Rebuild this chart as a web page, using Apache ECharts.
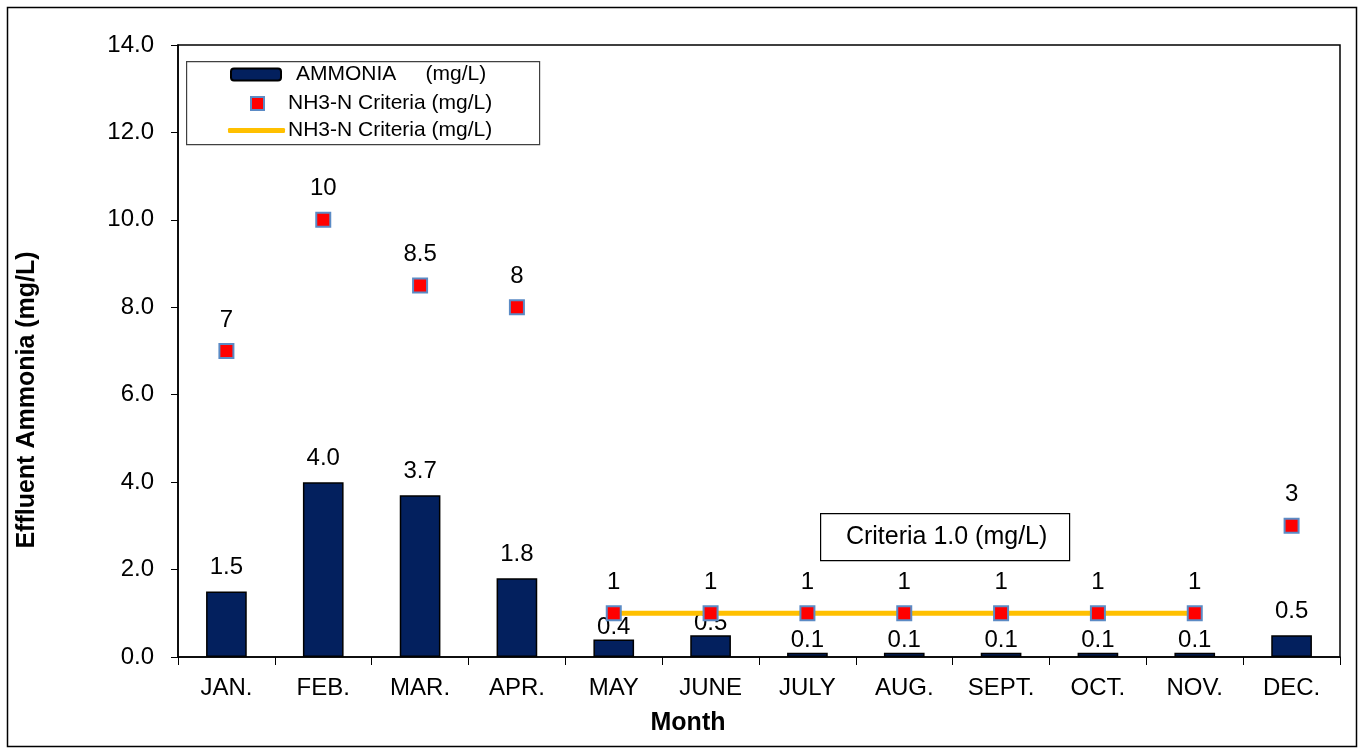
<!DOCTYPE html>
<html>
<head>
<meta charset="utf-8">
<title>Effluent Ammonia by Month</title>
<script src="https://cdn.jsdelivr.net/npm/echarts@6/dist/echarts.min.js"></script>
<style>
  html, body { margin: 0; padding: 0; background: #ffffff; }
  #chart { width: 1360px; height: 749px; }
</style>
</head>
<body>
<div id="chart"></div>
<script>
// Monthly effluent ammonia results and the NH3-N criteria (mg/L)
const months = ['JAN.', 'FEB.', 'MAR.', 'APR.', 'MAY', 'JUNE', 'JULY', 'AUG.', 'SEPT.', 'OCT.', 'NOV.', 'DEC.'];
const ammonia = [1.5, 4.0, 3.7, 1.8, 0.4, 0.5, 0.1, 0.1, 0.1, 0.1, 0.1, 0.5];
const criteria = [7, 10, 8.5, 8, 1, 1, 1, 1, 1, 1, 1, 3];
const criteriaLine = [null, null, null, null, 1, 1, 1, 1, 1, 1, 1, null];
const yTicks = { min: 0, max: 14, interval: 2 };

const FONT = 'Arial, "Liberation Sans", sans-serif';
const chart = echarts.init(document.getElementById('chart'), null, { renderer: 'canvas' });

// Bar labels sit closer to the bar where the criteria line runs just above it
const ammoniaData = ammonia.map((v, i) => ({
  value: v,
  label: { distance: criteriaLine[i] === null ? 12 : 0 }
}));

const option = {
  backgroundColor: '#ffffff',
  animation: false,
  grid: {
    left: 178, right: 20, top: 45, bottom: 92,
    show: true, borderColor: '#000000', borderWidth: 1.5, backgroundColor: 'transparent'
  },
  xAxis: {
    type: 'category',
    data: months,
    boundaryGap: true,
    axisLine: { lineStyle: { color: '#000', width: 1.5 } },
    axisTick: { show: true, length: 8, inside: false, lineStyle: { color: '#000', width: 1 } },
    axisLabel: { fontFamily: FONT, fontSize: 24, color: '#000', margin: 19 },
    splitLine: { show: false }
  },
  yAxis: {
    type: 'value',
    min: yTicks.min, max: yTicks.max, interval: yTicks.interval,
    axisLine: { show: true, lineStyle: { color: '#000', width: 1.5 } },
    axisTick: { show: true, length: 7, lineStyle: { color: '#000', width: 1 } },
    axisLabel: {
      fontFamily: FONT, fontSize: 24, color: '#000', margin: 24,
      formatter: v => v.toFixed(1)
    },
    splitLine: { show: false }
  },
  legend: [
    {
      data: ['AMMONIA'],
      formatter: () => 'AMMONIA     (mg/L)',
      left: 230, top: 64, padding: 0,
      itemWidth: 50, itemHeight: 12,
      textStyle: { fontFamily: FONT, fontSize: 21, color: '#000', padding: [0, 0, 0, 10] },
      selectedMode: false, z: 10
    },
    {
      data: ['NH3-N Criteria (mg/L)'],
      left: 250, top: 93, padding: 0,
      itemWidth: 13, itemHeight: 13,
      textStyle: { fontFamily: FONT, fontSize: 21, color: '#000', padding: [0, 0, 0, 19] },
      selectedMode: false, z: 10
    },
    {
      data: [{ name: 'criteria-line', icon: 'roundRect' }],
      formatter: () => 'NH3-N Criteria (mg/L)',
      left: 228, top: 120, padding: 0,
      itemWidth: 57, itemHeight: 5,
      textStyle: { fontFamily: FONT, fontSize: 21, color: '#000', padding: [0, 0, 0, -2] },
      selectedMode: false, z: 10
    }
  ],
  graphic: [
    // outer frame
    {
      type: 'rect', left: 5, top: 5, z: -10, silent: true,
      shape: { width: 1349, height: 739 },
      style: { fill: 'none', stroke: '#000', lineWidth: 1.5 }
    },
    // legend frame
    {
      type: 'rect', left: 186, top: 61, z: 5, silent: true,
      shape: { width: 353, height: 83 },
      style: { fill: '#fff', stroke: '#404040', lineWidth: 1.2 }
    },
    // criteria note
    {
      type: 'group', left: 820, top: 513, z: 5, silent: true,
      children: [
        {
          type: 'rect',
          shape: { x: 0, y: 0, width: 249, height: 47 },
          style: { fill: '#fff', stroke: '#000', lineWidth: 1.2 }
        },
        {
          type: 'text',
          style: {
            x: 126, y: 24, text: 'Criteria 1.0 (mg/L)',
            font: '25px ' + FONT, fill: '#000', align: 'center', verticalAlign: 'middle'
          }
        }
      ]
    },
    // axis titles
    {
      type: 'text', x: 27, y: 400, rotation: Math.PI / 2, silent: true,
      style: {
        text: 'Effluent Ammonia (mg/L)', font: 'bold 25px ' + FONT, fill: '#000',
        align: 'center', verticalAlign: 'middle'
      }
    },
    {
      type: 'text', x: 688, y: 723, silent: true,
      style: {
        text: 'Month', font: 'bold 25px ' + FONT, fill: '#000',
        align: 'center', verticalAlign: 'middle'
      }
    }
  ],
  series: [
    {
      name: 'AMMONIA',
      type: 'bar',
      data: ammoniaData,
      barWidth: '42%',
      itemStyle: { color: '#03205E', borderColor: '#000', borderWidth: 1.5 },
      label: {
        show: true, position: 'top',
        fontFamily: FONT, fontSize: 24, color: '#000',
        formatter: p => p.value.toFixed(1)
      },
      z: 2
    },
    {
      name: 'criteria-line',
      type: 'line',
      data: criteriaLine,
      symbol: 'none',
      connectNulls: false,
      lineStyle: { color: '#FFC000', width: 5 },
      itemStyle: { color: '#FFC000' },
      z: 3
    },
    {
      name: 'NH3-N Criteria (mg/L)',
      type: 'scatter',
      data: criteria,
      symbol: 'rect',
      symbolSize: 14,
      itemStyle: { color: '#FF0000', borderColor: '#5B8BC5', borderWidth: 2, opacity: 1 },
      label: {
        show: true, position: 'top', distance: 11,
        fontFamily: FONT, fontSize: 24, color: '#000000', opacity: 1,
        formatter: p => String(p.value)
      },
      z: 4
    }
  ]
};

chart.setOption(option);
</script>
</body>
</html>
